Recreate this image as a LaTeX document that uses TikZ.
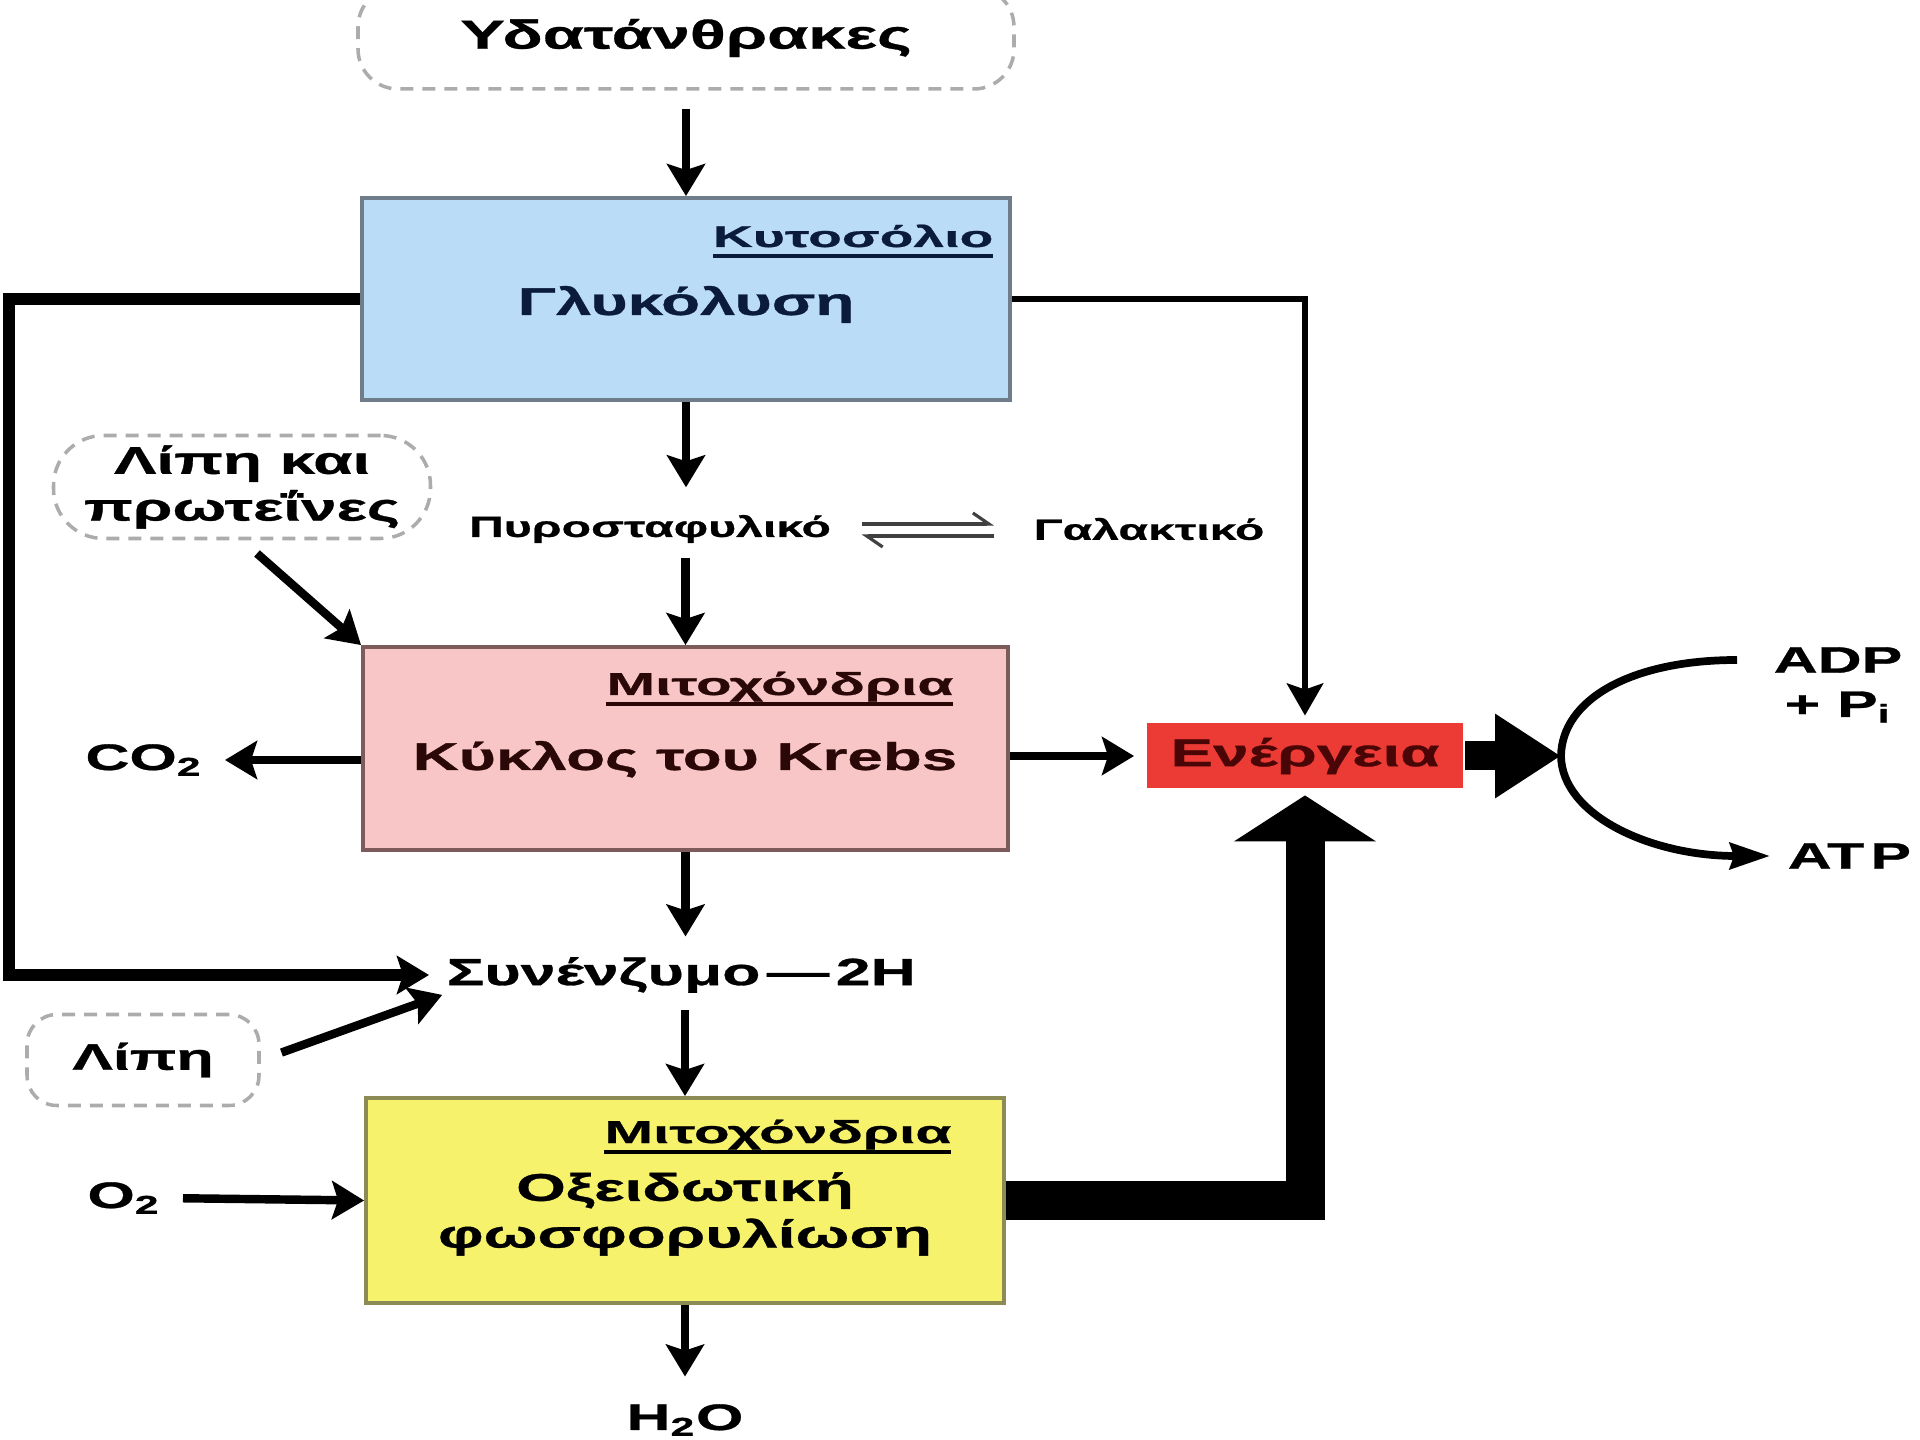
\documentclass[tikz,border=0pt]{standalone}
\usepackage{fontspec}
\setmainfont{Liberation Sans}[FakeStretch=1.65, FakeBold=0.8]
\newfontfamily\sitefamily{Liberation Sans}[FakeStretch=1.85, FakeBold=0.8]
\usetikzlibrary{
    arrows.meta,
    positioning
}

\definecolor{glycoblue}{HTML}{BBDCF6}
\definecolor{glycoedge}{HTML}{6F7C8A}
\definecolor{glycoink}{HTML}{0B1B3D}
\definecolor{krebspink}{HTML}{F8C6C6}
\definecolor{krebsedge}{HTML}{7D5B5B}
\definecolor{krebsink}{HTML}{2B0808}
\definecolor{oxidyellow}{HTML}{F6F26C}
\definecolor{oxidedge}{HTML}{8C8A55}
\definecolor{energyred}{HTML}{EC3A35}
\definecolor{energyink}{HTML}{4A0606}

\newcommand{\boxfont}{\fontsize{11}{13.3}\selectfont\bfseries}
\newcommand{\plainfont}{\fontsize{10.5}{12.6}\selectfont\bfseries}
\newcommand{\tagfont}{\fontsize{8.3}{10}\selectfont\bfseries}
\newcommand{\sitefont}{\fontsize{9}{11}\selectfont\sitefamily\bfseries}
\newcommand{\undl}[1]{\setbox0=\hbox{#1}\rlap{\rule[-3pt]{\wd0}{0.9pt}}\box0}

\begin{document}
\begin{tikzpicture}[
    x=0.1mm, y=-0.1mm,
    cellbox/.style   = {rectangle, draw, line width=1.1pt, inner sep=0pt},
    cloudnode/.style = {rectangle, draw=gray!65, line width=1pt,
                        dash pattern=on 1.3mm off 0.9mm, align=center,
                        font=\plainfont, inner sep=0pt},
    word/.style      = {inner sep=0pt, font=\plainfont},
    boxword/.style   = {inner sep=0pt, font=\boxfont, align=center},
    siteword/.style  = {inner sep=0pt, font=\sitefont, anchor=base east},
    smallword/.style = {inner sep=0pt, font=\tagfont},
    flow/.style      = {-{Stealth[length=3.2mm, width=3.8mm, inset=0.6mm]},
                        line width=2.4pt},
    thinflow/.style  = {-{Stealth[length=3.2mm, width=3.6mm, inset=0.6mm]},
                        line width=1.8pt},
    busline/.style   = {flow, line width=3.2pt},
    equil/.style     = {-{Straight Barb[harpoon, length=1.6mm, width=2.2mm]},
                        line width=0.9pt, black!75},
    powerline/.style = {-{Triangle[length=4.6mm, width=14mm]}, line width=3.9mm},
    thrust/.style    = {-{Triangle[length=6.6mm, width=8mm]}, line width=2.9mm},
    turnarc/.style   = {-{Stealth[length=4mm, width=2.6mm, inset=0.4mm]},
                        line width=2.2pt},
]
    \useasboundingbox (0,0) rectangle (1920,1440);

    %Nodes
    \node[cloudnode, font=\fontsize{11.5}{13.8}\selectfont\bfseries,
          rounded corners=4mm, minimum width=65.6mm,
          minimum height=10.2mm]               (carbs)      at (686,38)    {Υδατάνθρακες};
    \node[cellbox, draw=glycoedge, fill=glycoblue, minimum width=64.8mm,
          minimum height=20.2mm]               (glyco)      at (686,299)   {};
    \node[boxword, text=glycoink, anchor=base] (glyconame)  at (686,315)   {Γλυκόλυση};
    \node[siteword, text=glycoink,
          font=\fontsize{8.5}{10}\selectfont\sitefamily\bfseries]
                                               (glycoplace) at (994,247)   {\undl{Κυτοσόλιο}};

    \node[smallword]                           (pyr)        at (650,529)   {Πυροσταφυλικό};
    \node[smallword]                           (lac)        at (1149,529)  {Γαλακτικό};
    \node[cloudnode, font=\boxfont, rounded corners=5mm, minimum width=37.7mm,
          minimum height=10.3mm]               (fatsprot)   at (242,487)   {Λίπη και\\πρωτεΐνες};

    \node[cellbox, draw=krebsedge, fill=krebspink, minimum width=64.5mm,
          minimum height=20.3mm]               (krebs)      at (685.5,748.5) {};
    \node[boxword, text=krebsink, anchor=base] (krebsname)  at (685,770)   {Κύκλος του Krebs};
    \node[siteword, text=krebsink]             (krebsplace) at (954,695)   {\undl{Μιτοχόνδρια}};
    \node[word, anchor=east]                   (co2)        at (203,760)   {CO\textsubscript{2}};

    \node[cellbox, draw=none, fill=energyred, minimum width=31.6mm,
          minimum height=6.5mm, font=\boxfont, text=energyink]
                                               (energy)     at (1305,756)  {Ενέργεια};
    \coordinate                                (turn)       at (1561,756);
    \coordinate                                (arcin)      at (1737,660);
    \node[word, align=center]                  (adp)        at (1838,685)  {ADP\\+ P\textsubscript{i}};
    \node[word, anchor=west]                   (atp)        at (1787,856)  {AT\,P};

    \node[word, anchor=west, font=\fontsize{10.8}{13}\selectfont\bfseries]
                                               (coenz)      at (446,975)   {Συνένζυμο\,—\,2H};
    \coordinate                                (leftbus)    at (9,975);
    \node[cloudnode, rounded corners=3mm, minimum width=23.2mm,
          minimum height=9.1mm]                (fats)       at (143,1060)  {Λίπη};

    \node[cellbox, draw=oxidedge, fill=oxidyellow, minimum width=63.8mm,
          minimum height=20.5mm]               (oxid)       at (685,1200.5) {};
    \node[boxword]                             (oxidname)   at (685,1214)  {Οξειδωτική\\φωσφορυλίωση};
    \node[siteword]                            (oxidplace)  at (952,1143)  {\undl{Μιτοχόνδρια}};
    \node[word, anchor=east]                   (o2)         at (161,1198)  {O\textsubscript{2}};
    \node[word]                                (h2o)        at (685,1420)  {H\textsubscript{2}O};

    %Lines
    \draw[flow, shorten <=1.8mm] (carbs.south) -- (glyco.north);
    \draw[flow, shorten >=2.7mm] (glyco.south) -- (glyco.south |- pyr.north);
    \draw[flow, shorten <=1.4mm] (krebs.north |- pyr.south) -- (krebs.north);
    \draw[equil] ([xshift=3mm, yshift=0.5mm]pyr.east) -- ([xshift=-3.9mm, yshift=0.5mm]lac.west);
    \draw[equil] ([xshift=-3.9mm, yshift=-0.7mm]lac.west) -- ([xshift=3mm, yshift=-0.7mm]pyr.east);
    \draw[flow, shorten <=2mm] (fatsprot.south) -- (krebs.north west);
    \draw[flow, shorten >=2.2mm] (krebs.west |- co2.east) -- (co2.east);
    \draw[flow, shorten >=1.1mm] (krebs.east |- energy.west) -- (energy.west);
    \draw[thinflow, shorten >=0.6mm] (glyco.east) -| (energy.north);
    \draw[busline, shorten >=1.7mm] (glyco.west) -| (leftbus) -- (leftbus -| coenz.west);
    \draw[flow, shorten >=2mm] (krebs.south) -- (krebs.south |- coenz.north);
    \draw[flow, shorten <=2.2mm, shorten >=0.4mm] (fats.east) -- (coenz.south west);
    \draw[flow, shorten <=1.6mm] (oxid.north |- coenz.south) -- (oxid.north);
    \draw[flow, shorten <=2.2mm] (o2.east) -- (oxid.west);
    \draw[flow, shorten >=2.7mm] (oxid.south) -- (h2o.north);
    \draw[powerline, shorten >=0.5mm] (oxid.east) -| (energy.south);
    \draw[thrust] (energy.east) -- (turn);
    \draw[turnarc, shorten >=1.7mm] (arcin) .. controls (1630,660) and (1562,700) .. (turn)
        .. controls (1562,815) and (1650,856) .. (atp.west);
\end{tikzpicture}
\end{document}
